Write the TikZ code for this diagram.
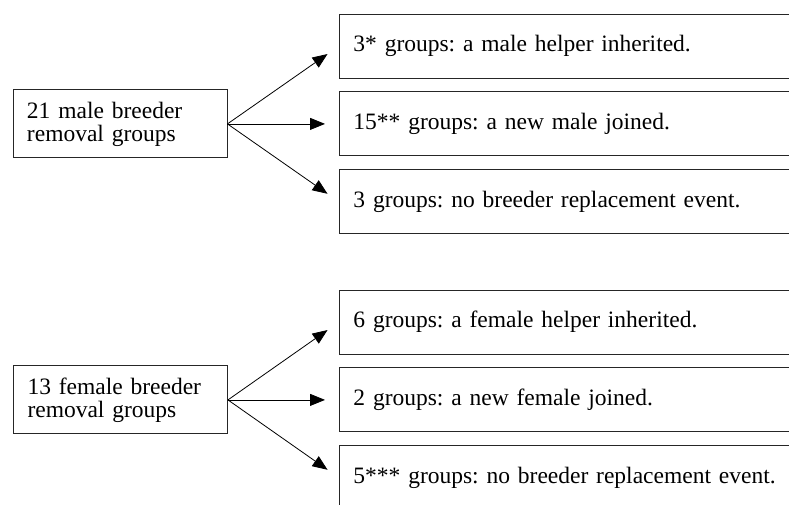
\documentclass[tikz,border=0pt]{standalone}
\usepackage{fontspec}
\setmainfont{Liberation Serif}
\usetikzlibrary{positioning,arrows.meta}

\begin{document}
\begin{tikzpicture}[
    x=1pt, y=-1pt,
    font=\fontsize{23.5}{23}\selectfont\frenchspacing,
    src/.style={draw=black!85, line width=0.9pt, align=left, text width=186pt, inner xsep=14pt, minimum height=68pt},
    res/.style={draw=black!85, line width=0.9pt, align=left, text width=440pt, inner xsep=14pt, minimum height=64pt},
    arr/.style={-{Triangle[length=15pt, width=12pt]}, line width=0.8pt, shorten >=14pt}
  ]
    \useasboundingbox (0,0) rectangle (789,504);
    \clip (0,0) rectangle (789,504);
    \node[src] (male) at (120,123.9) {21 male breeder\\removal groups};
    \node[res, anchor=west] (m1) at (339,46) {3* groups: a male helper inherited.};
    \node[res, below=13pt of m1] (m2) {15** groups: a new male joined.};
    \node[res, below=13pt of m2] (m3) {3 groups: no breeder replacement event.};
    \node[src] (female) at (120.5,399.9) {13 female breeder\\removal groups};
    \node[res, anchor=west] (f1) at (339,322) {6 groups: a female helper inherited.};
    \node[res, below=13pt of f1] (f2) {2 groups: a new female joined.};
    \node[res, below=13pt of f2] (f3) {5*** groups: no breeder replacement event.};
    \foreach \t in {m1,m2,m3} \draw[arr] (male.east) -- (\t.west);
    \foreach \t in {f1,f2,f3} \draw[arr] (female.east) -- (\t.west);
\end{tikzpicture}
\end{document}
